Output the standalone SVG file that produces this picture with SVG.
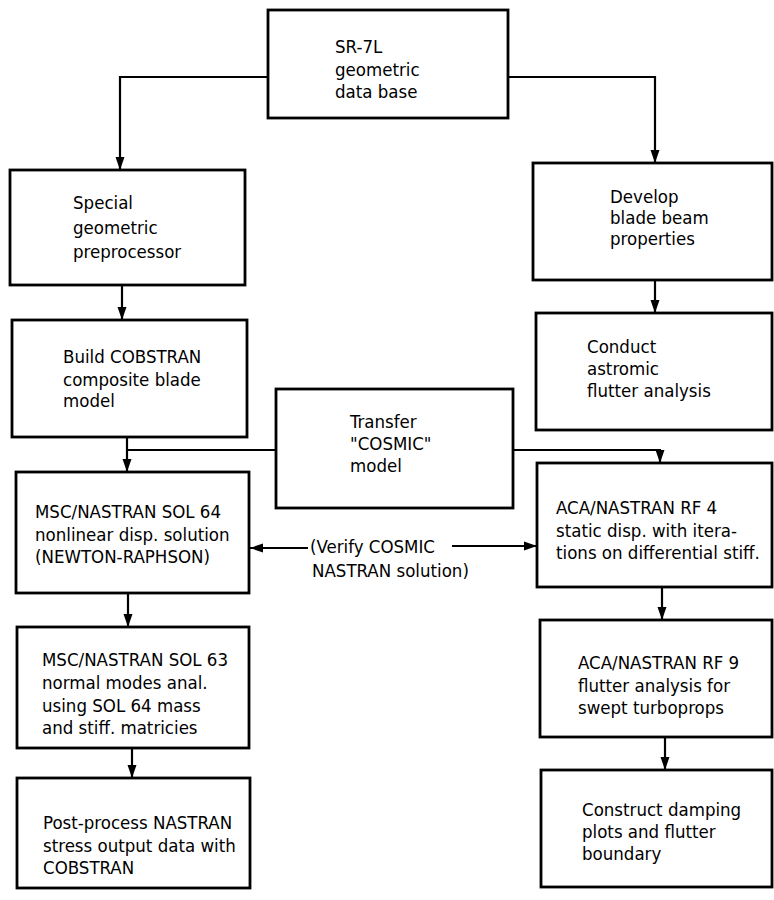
<svg xmlns="http://www.w3.org/2000/svg" width="774" height="900" viewBox="0 0 774 900">
<style>
rect.box{fill:#fff;stroke:#000;stroke-width:2.8}
text{font-family:"DejaVu Sans Condensed","DejaVu Sans","Liberation Sans",sans-serif;font-size:18.5px;fill:#000}
.conn path{fill:none;stroke:#000;stroke-width:2.2}
</style>
<defs>
<marker id="ah" markerUnits="userSpaceOnUse" markerWidth="14" markerHeight="10" refX="13" refY="5" orient="auto">
<path d="M0,0.5 L13,5 L0,9.5 z" fill="#000"/>
</marker>
</defs>
<rect width="774" height="900" fill="#fff"/>
<g class="conn" id="connectors">
<path d="M268,77 H120 V170" marker-end="url(#ah)"/>
<path d="M508,77 H655 V163" marker-end="url(#ah)"/>
<path d="M122,285 V320" marker-end="url(#ah)"/>
<path d="M655,280 V313" marker-end="url(#ah)"/>
<path d="M127,437 V472" marker-end="url(#ah)"/>
<path d="M127,450 H660 V463" marker-end="url(#ah)"/>
<path d="M308,548 H250" marker-end="url(#ah)"/>
<path d="M452,546 H537" marker-end="url(#ah)"/>
<path d="M128,593 V627" marker-end="url(#ah)"/>
<path d="M662,587 V620" marker-end="url(#ah)"/>
<path d="M665,737 V770" marker-end="url(#ah)"/>
<path d="M132,748 V778" marker-end="url(#ah)"/>
<text x="310" y="553">(Verify COSMIC</text>
<text x="312" y="577">NASTRAN solution)</text>
</g>
<g id="sr7l">
<rect class="box" x="268" y="10" width="240" height="108"/>
<text x="335" y="53">SR-7L</text>
<text x="335" y="76">geometric</text>
<text x="335" y="98">data base</text>
</g>
<g id="special">
<rect class="box" x="10" y="170" width="235" height="115"/>
<text x="73" y="209">Special</text>
<text x="73" y="234">geometric</text>
<text x="73" y="258">preprocessor</text>
</g>
<g id="develop">
<rect class="box" x="533" y="163" width="239" height="117"/>
<text x="610" y="203">Develop</text>
<text x="610" y="224">blade beam</text>
<text x="610" y="245">properties</text>
</g>
<g id="build">
<rect class="box" x="12" y="320" width="235" height="117"/>
<text x="63" y="363">Build COBSTRAN</text>
<text x="63" y="386">composite blade</text>
<text x="63" y="407">model</text>
</g>
<g id="conduct">
<rect class="box" x="536" y="313" width="236" height="117"/>
<text x="587" y="353">Conduct</text>
<text x="587" y="375">astromic</text>
<text x="587" y="397">flutter analysis</text>
</g>
<g id="transfer">
<rect class="box" x="276" y="389" width="237" height="119"/>
<text x="350" y="428">Transfer</text>
<text x="350" y="450">"COSMIC"</text>
<text x="350" y="472">model</text>
</g>
<g id="msc64">
<rect class="box" x="16" y="472" width="233" height="121"/>
<text x="35" y="518">MSC/NASTRAN SOL 64</text>
<text x="35" y="541">nonlinear disp. solution</text>
<text x="35" y="563">(NEWTON-RAPHSON)</text>
</g>
<g id="aca4">
<rect class="box" x="537" y="463" width="235" height="124"/>
<text x="556" y="514">ACA/NASTRAN RF 4</text>
<text x="556" y="537">static disp. with itera-</text>
<text x="556" y="559">tions on differential stiff.</text>
</g>
<g id="msc63">
<rect class="box" x="17" y="627" width="232" height="121"/>
<text x="42" y="666">MSC/NASTRAN SOL 63</text>
<text x="42" y="689">normal modes anal.</text>
<text x="42" y="712">using SOL 64 mass</text>
<text x="42" y="734">and stiff. matricies</text>
</g>
<g id="rf9">
<rect class="box" x="540" y="620" width="232" height="117"/>
<text x="578" y="669">ACA/NASTRAN RF 9</text>
<text x="578" y="692">flutter analysis for</text>
<text x="578" y="714">swept turboprops</text>
</g>
<g id="construct">
<rect class="box" x="541" y="770" width="231" height="117"/>
<text x="582" y="816">Construct damping</text>
<text x="582" y="838">plots and flutter</text>
<text x="582" y="860">boundary</text>
</g>
<g id="post">
<rect class="box" x="17" y="778" width="233" height="110"/>
<text x="43" y="829">Post-process NASTRAN</text>
<text x="43" y="852">stress output data with</text>
<text x="43" y="874">COBSTRAN</text>
</g>
</svg>
